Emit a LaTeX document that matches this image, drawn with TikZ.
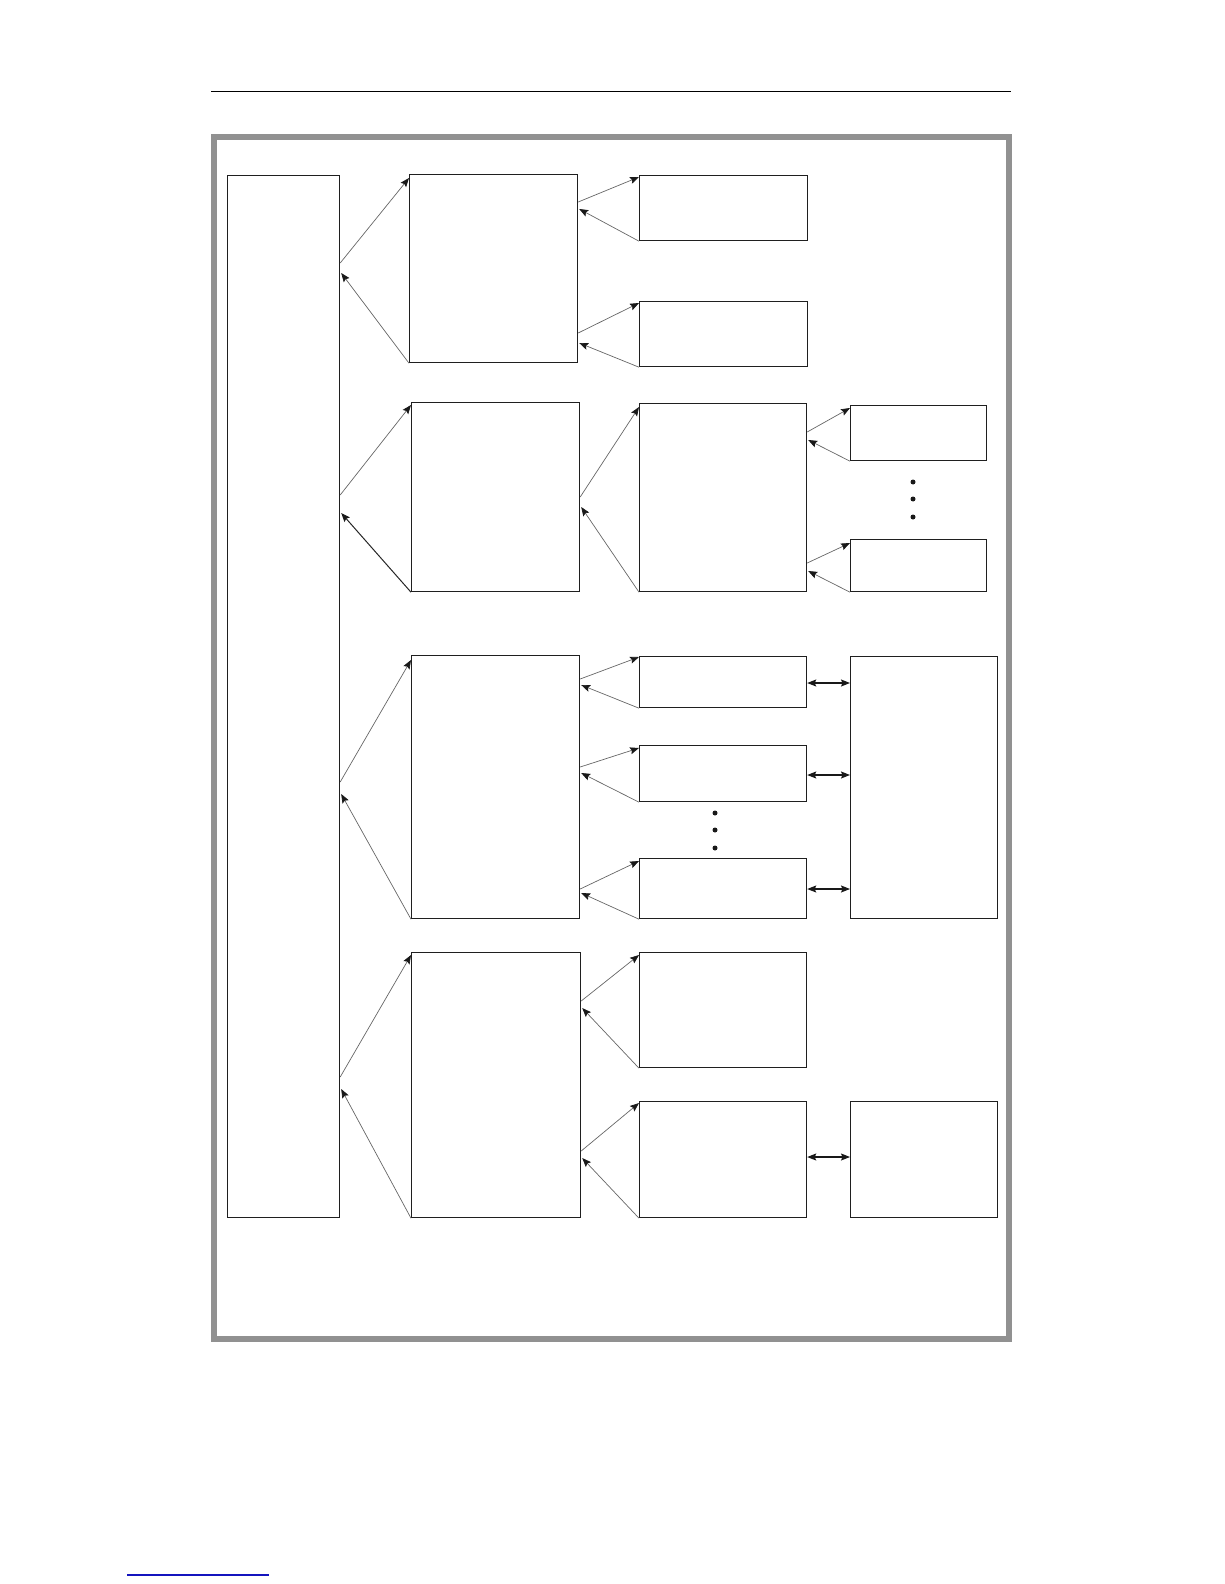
\documentclass[tikz,border=0pt]{standalone}
\usetikzlibrary{arrows.meta,calc}
\definecolor{framegray}{RGB}{145,145,145}
\definecolor{linkblue}{RGB}{20,20,190}
\tikzset{
  box/.style={draw=black!88, line width=1.2pt, rectangle, inner sep=0pt, anchor=north west, fill=white},
  conn/.style={draw=black!60, line width=0.7pt, -{Stealth[length=9pt,width=7pt,inset=1.5pt,color=black!90]}},
  connb/.style={draw=black!85, line width=1.0pt, -{Stealth[length=9pt,width=7pt,inset=1.5pt,color=black!90]}},
  dbl/.style={draw=black!90, line width=1.1pt, {Stealth[length=9pt,width=7pt,inset=1.5pt]}-{Stealth[length=9pt,width=7pt,inset=1.5pt]}},
  dotmark/.style={circle, fill=black!90, inner sep=0pt, minimum size=5pt},
}
\newcommand{\bx}[5]{\node[box, minimum width=#4pt, minimum height=#5pt] (#1) at (#2,#3) {};}
\begin{document}
\begin{tikzpicture}[x=1pt,y=-1pt]
\useasboundingbox (0,0) rectangle (1224,1584);
% header rule
\coordinate (hl) at (211,91.5);
\coordinate (hr) at (1011,91.5);
\draw[line width=1.5pt] (hl) -- (hr);
% frame
\draw[draw=framegray, line width=6pt] (214,137) rectangle (1008.5,1338.5);
% footer link underline
\coordinate (ul) at (127,1575);
\coordinate (ur) at (269,1575);
\draw[draw=linkblue, line width=1.2pt] (ul) -- (ur);

% boxes
\bx{col0}{227}{175}{112}{1042}
\bx{A}{409}{174}{168}{188}
\bx{K1}{639}{175}{168}{65}
\bx{K2}{639}{301}{168}{65}
\bx{B}{411}{402}{168}{189}
\bx{C}{639}{403}{167}{188}
\bx{D1}{850}{405}{136}{55}
\bx{D2}{850}{539}{136}{52}
\bx{E}{411}{655}{168}{263}
\bx{F1}{639}{656}{167}{51}
\bx{F2}{639}{745}{167}{56}
\bx{F3}{639}{858}{167}{60}
\bx{G}{850}{656}{147}{262}
\bx{H}{411}{952}{169}{265}
\bx{I1}{639}{952}{167}{115}
\bx{I2}{639}{1101}{167}{116}
\bx{J}{850}{1101}{147}{116}

% col0 <-> A
\draw[conn] ($(col0.north east)+(0,88)$) -- ($(A.north west)+(0,4)$);
\draw[conn] (A.south west) -- ($(col0.north east)+(1,98)$);
% A <-> K1, K2
\draw[conn] ($(A.north east)+(0,28)$) -- ($(K1.north west)+(0,2)$);
\draw[conn] (K1.south west) -- ($(A.north east)+(1,35)$);
\draw[conn] ($(A.north east)+(0,159)$) -- ($(K2.north west)+(0,2)$);
\draw[conn] (K2.south west) -- ($(A.north east)+(1,169)$);
% col0 <-> B
\draw[conn] ($(col0.north east)+(0,320)$) -- ($(B.north west)+(0,3)$);
\draw[connb] (B.south west) -- ($(col0.north east)+(1,338)$);
% B <-> C
\draw[conn] ($(B.north east)+(0,95)$) -- ($(C.north west)+(0,4)$);
\draw[conn] (C.south west) -- ($(B.north east)+(1,105)$);
% C <-> D1, D2
\draw[conn] ($(C.north east)+(0,29)$) -- ($(D1.north west)+(0,3)$);
\draw[conn] (D1.south west) -- ($(C.north east)+(1,37)$);
\draw[conn] ($(C.north east)+(0,160)$) -- ($(D2.north west)+(0,4)$);
\draw[conn] (D2.south west) -- ($(C.north east)+(1,168)$);
% dots
\node[dotmark] (d1) at (913,482) {};
\node[dotmark] (d2) at (913,499) {};
\node[dotmark] (d3) at (913,517) {};
% col0 <-> E
\draw[conn] ($(col0.north east)+(0,607)$) -- ($(E.north west)+(0,5)$);
\draw[conn] (E.south west) -- ($(col0.north east)+(1,619)$);
% E <-> F1..F3
\draw[conn] ($(E.north east)+(0,24)$) -- ($(F1.north west)+(0,1)$);
\draw[conn] (F1.south west) -- ($(E.north east)+(1,30)$);
\draw[conn] ($(E.north east)+(0,112)$) -- ($(F2.north west)+(0,3)$);
\draw[conn] (F2.south west) -- ($(E.north east)+(1,118)$);
\draw[conn] ($(E.north east)+(0,234)$) -- ($(F3.north west)+(0,3)$);
\draw[conn] (F3.south west) -- ($(E.north east)+(1,238)$);
% dots
\node[dotmark] (e1) at (715,813) {};
\node[dotmark] (e2) at (715,830) {};
\node[dotmark] (e3) at (715,848) {};
% F <-> G
\draw[dbl] (F1.east |- 0,683) -- (G.west |- 0,683);
\draw[dbl] (F2.east |- 0,775) -- (G.west |- 0,775);
\draw[dbl] (F3.east |- 0,889) -- (G.west |- 0,889);
% col0 <-> H
\draw[conn] ($(col0.north east)+(0,902)$) -- ($(H.north west)+(0,3)$);
\draw[conn] (H.south west) -- ($(col0.north east)+(1,914)$);
% H <-> I1, I2
\draw[conn] ($(H.north east)+(0,49)$) -- ($(I1.north west)+(0,3)$);
\draw[conn] (I1.south west) -- ($(H.north east)+(1,56)$);
\draw[conn] ($(H.north east)+(0,199)$) -- ($(I2.north west)+(0,2)$);
\draw[conn] (I2.south west) -- ($(H.north east)+(1,206)$);
% I2 <-> J
\draw[dbl] (I2.east |- 0,1157) -- (J.west |- 0,1157);
\end{tikzpicture}
\end{document}
